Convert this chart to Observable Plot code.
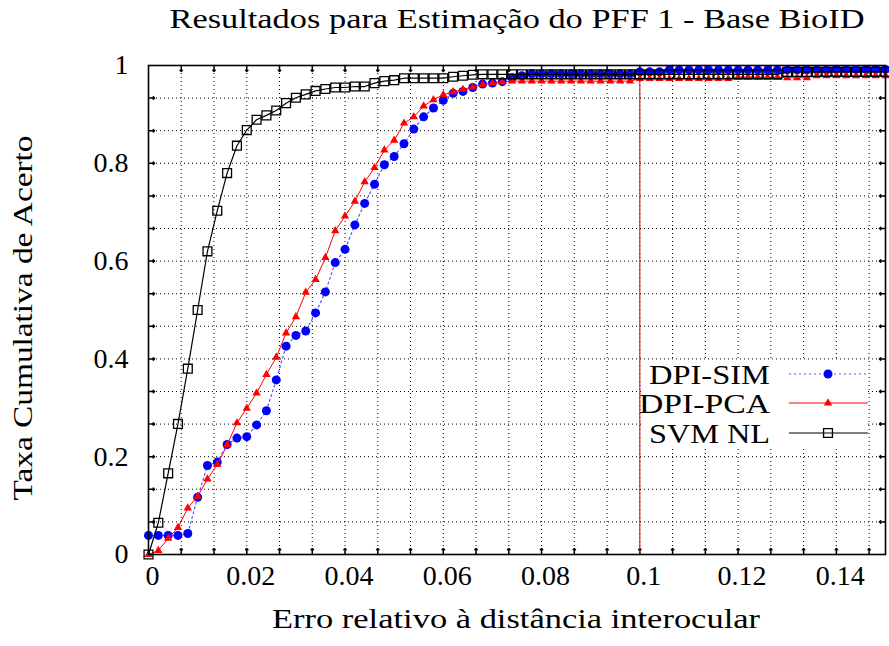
<!DOCTYPE html>
<html><head><meta charset="utf-8">
<script src="https://cdn.jsdelivr.net/npm/d3@7"></script>
<script src="https://cdn.jsdelivr.net/npm/@observablehq/plot@0.6"></script>
<style>body{margin:0;background:#fff} svg{display:block} svg text{font-family:"Liberation Serif","Times New Roman",Times,"Nimbus Roman",serif}</style>
</head><body><div id="chart"></div>
<script>
const erro = [0,0.002,0.004,0.006,0.008,0.01,0.012,0.014,0.016,0.018,
 0.02,0.022,0.024,0.026,0.028,0.03,0.032,0.034,0.036,0.038,
 0.04,0.042,0.044,0.046,0.048,0.05,0.052,0.054,0.056,0.058,
 0.06,0.062,0.064,0.066,0.068,0.07,0.072,0.074,0.076,0.078,
 0.08,0.082,0.084,0.086,0.088,0.09,0.092,0.094,0.096,0.098,
 0.1,0.102,0.104,0.106,0.108,0.11,0.112,0.114,0.116,0.118,
 0.12,0.122,0.124,0.126,0.128,0.13,0.132,0.134,0.136,0.138,
 0.14,0.142,0.144,0.146,0.148,0.15];
const dpiSim = [0.039,0.039,0.039,0.039,0.043,0.117,0.182,0.189,0.225,0.238,
 0.241,0.265,0.294,0.357,0.426,0.448,0.457,0.494,0.537,0.597,
 0.624,0.674,0.718,0.757,0.797,0.814,0.840,0.870,0.895,0.913,
 0.929,0.943,0.947,0.955,0.962,0.964,0.967,0.975,0.979,0.983,
 0.983,0.983,0.983,0.983,0.983,0.983,0.983,0.983,0.983,0.983,
 0.987,0.987,0.987,0.991,0.991,0.991,0.991,0.991,0.991,0.991,
 0.991,0.991,0.991,0.991,0.991,0.991,0.991,0.991,0.991,0.991,
 0.992,0.992,0.992,0.992,0.992,0.992];
const dpiPca = [0,0.008,0.033,0.055,0.095,0.119,0.154,0.184,0.224,0.269,
 0.299,0.330,0.368,0.403,0.453,0.486,0.536,0.562,0.607,0.662,
 0.692,0.722,0.762,0.791,0.827,0.847,0.882,0.895,0.917,0.930,
 0.940,0.946,0.951,0.956,0.961,0.964,0.966,0.968,0.968,0.968,
 0.968,0.968,0.968,0.968,0.968,0.968,0.968,0.968,0.968,0.968,
 0.973,0.973,0.973,0.973,0.973,0.973,0.973,0.973,0.973,0.973,
 0.976,0.976,0.976,0.976,0.976,0.975,0.975,0.975,0.979,0.979,
 0.979,0.979,0.979,0.979,0.979,0.979];
const svmNl = [0,0.065,0.166,0.267,0.380,0.500,0.620,0.703,0.780,0.836,
 0.868,0.889,0.898,0.908,0.923,0.934,0.941,0.948,0.952,0.955,
 0.955,0.957,0.957,0.964,0.968,0.970,0.974,0.974,0.974,0.974,
 0.974,0.977,0.979,0.981,0.982,0.982,0.982,0.982,0.982,0.982,
 0.982,0.982,0.982,0.982,0.982,0.982,0.982,0.982,0.982,0.982,
 0.982,0.982,0.982,0.982,0.982,0.982,0.982,0.982,0.982,0.982,
 0.982,0.982,0.982,0.982,0.982,0.987,0.987,0.987,0.987,0.987,
 0.987,0.987,0.987,0.987,0.987,0.987];
const xTicks = [0,0.02,0.04,0.06,0.08,0.1,0.12,0.14];
const xTickLabels = ["0","0.02","0.04","0.06","0.08","0.1","0.12","0.14"];
const yTicks = [0,0.2,0.4,0.6,0.8,1];
const yTickLabels = ["0","0.2","0.4","0.6","0.8","1"];
const seriesNames = ["DPI-SIM","DPI-PCA","SVM NL"];
const referenceX = 0.1;
const xDomain = [0, 0.15];
const yDomain = [0, 1];
const titleText = "Resultados para Estimação do PFF 1 - Base BioID";
const xLabel = "Erro relativo à distância interocular";
const yLabel = "Taxa Cumulativa de Acerto";

const FONT = '"Liberation Serif","Times New Roman",Times,"Nimbus Roman",serif';
const sim = erro.map((x,i)=>({x, y: dpiSim[i]}));
const pca = erro.map((x,i)=>({x, y: dpiPca[i]}));
const svm = erro.map((x,i)=>({x, y: svmNl[i]}));
const xGrid = d3.range(1, 23).map(k => k * 0.02 / 3);
const yGrid = d3.range(1, 15).map(k => k * 0.2 / 3);
const dot = {stroke: "black", strokeWidth: 1, strokeDasharray: "1,3", strokeOpacity: 1};
const BLUE = "#0000ff", BLUELINE = "#5555ff", RED = "#ff0000";

const plot = Plot.plot({
  width: 889, height: 646,
  marginLeft: 148, marginRight: 4, marginTop: 65, marginBottom: 92,
  style: {background: "white"},
  x: {domain: xDomain}, y: {domain: yDomain},
  marks: [
    Plot.gridX(xGrid, dot),
    Plot.gridY(yGrid, dot),
    Plot.vector(xGrid, {x: d=>d, y: 0, length: 6, rotate: 0, anchor: "start", stroke: "black"}),
    Plot.vector(xGrid, {x: d=>d, y: 1, length: 6, rotate: 180, anchor: "start", stroke: "black"}),
    Plot.vector(yGrid, {y: d=>d, x: 0, length: 6, rotate: 90, anchor: "start", stroke: "black"}),
    Plot.vector(yGrid, {y: d=>d, x: 0.15, length: 6, rotate: -90, anchor: "start", stroke: "black"}),
    Plot.ruleX([referenceX], {stroke: "#dd0000", strokeWidth: 1}),
    Plot.axisX(xTicks, {tickSize: 0, tickPadding: 11, dx: 4, fontSize: 28, label: null,
      tickFormat: d => xTickLabels[xTicks.indexOf(d)]}),
    Plot.axisY(yTicks, {tickSize: 0, tickPadding: 20, fontSize: 28, label: null,
      tickFormat: d => yTickLabels[yTicks.indexOf(d)]}),
    Plot.line(sim, {x: "x", y: "y", stroke: BLUELINE, strokeWidth: 1.2, strokeDasharray: "2,3"}),
    Plot.dot(sim, {x: "x", y: "y", r: 4.5, fill: BLUE, symbol: "circle"}),
    Plot.line(pca, {x: "x", y: "y", stroke: RED, strokeWidth: 1}),
    Plot.dot(pca, {x: "x", y: "y", r: 3.1, fill: RED, symbol: "triangle"}),
    Plot.line(svm, {x: "x", y: "y", stroke: "black", strokeWidth: 1.2}),
    Plot.dot(svm, {x: "x", y: "y", r: 5, fill: "none", stroke: "black", strokeWidth: 1.3, symbol: "square"}),
    Plot.frame({stroke: "black", strokeWidth: 1.6})
  ]
});
document.getElementById("chart").appendChild(plot);
const svg = d3.select(plot);
svg.selectAll("text").style("font-family", FONT);

function label(x, y, txt, size, len, anchor, transform) {
  const t = svg.append("text").attr("text-anchor", anchor || "middle")
    .style("font-family", FONT).style("font-size", size + "px").text(txt);
  if (transform) t.attr("transform", transform); else t.attr("x", x).attr("y", y);
  if (len) t.attr("textLength", len).attr("lengthAdjust", "spacingAndGlyphs");
  return t;
}
label(517, 28, titleText, 27, 695);
label(516, 628, xLabel, 28, 488);
label(0, 0, yLabel, 28, 365, "middle", "translate(32,318) rotate(-90)");

// legend
const lg = svg.append("g");
lg.append("rect").attr("x", 641).attr("y", 361).attr("width", 227).attr("height", 86).attr("fill", "white");
const rows = [
  {name: seriesNames[0], y: 374, w: 121, stroke: BLUELINE, dash: "2,3", sym: d3.symbolCircle, size: Math.PI*4.5*4.5, fill: BLUE, mstroke: "none"},
  {name: seriesNames[1], y: 403, w: 131, stroke: RED, dash: null, sym: d3.symbolTriangle, size: Math.PI*3.1*3.1, fill: RED, mstroke: "none"},
  {name: seriesNames[2], y: 433, w: 121, stroke: "black", dash: null, sym: d3.symbolSquare, size: Math.PI*25, fill: "none", mstroke: "black"}
];
rows.forEach(r => {
  lg.append("text").attr("x", 770 - r.w).attr("y", r.y).attr("dy", "0.35em").attr("text-anchor", "start")
    .style("font-family", FONT).style("font-size", "28px").text(r.name)
    .attr("textLength", r.w).attr("lengthAdjust", "spacingAndGlyphs");
  lg.append("line").attr("x1", 789).attr("x2", 868).attr("y1", r.y).attr("y2", r.y)
    .attr("stroke", r.stroke).attr("stroke-width", 1.2).attr("stroke-dasharray", r.dash);
  lg.append("path").attr("transform", `translate(828,${r.y})`).attr("d", d3.symbol(r.sym, r.size)())
    .attr("fill", r.fill).attr("stroke", r.mstroke).attr("stroke-width", 1.3);
});
</script></body></html>
